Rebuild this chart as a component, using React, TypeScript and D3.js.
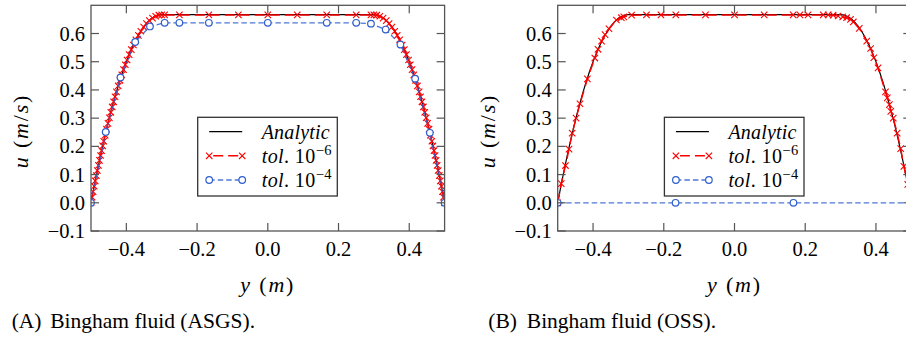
import React from "react";
import * as d3 from "d3";

// ---------- data ----------
const X_TICKS = [-0.4, -0.2, 0.0, 0.2, 0.4];
const Y_TICKS = [-0.1, 0.0, 0.1, 0.2, 0.3, 0.4, 0.5, 0.6];

const ANALYTIC_Y = [
  -0.5, -0.49, -0.48, -0.47, -0.46, -0.45, -0.44, -0.43, -0.42, -0.41, -0.4,
  -0.39, -0.38, -0.37, -0.36, -0.35, -0.34, -0.33, -0.32, -0.31, -0.3,
  0.3, 0.31, 0.32, 0.33, 0.34, 0.35, 0.36, 0.37, 0.38, 0.39, 0.4,
  0.41, 0.42, 0.43, 0.44, 0.45, 0.46, 0.47, 0.48, 0.49, 0.5,
];
const ANALYTIC_U = [
  0, 0.065, 0.1267, 0.1851, 0.2401, 0.2918, 0.3402, 0.3852, 0.4269, 0.4652, 0.5003,
  0.5319, 0.5603, 0.5853, 0.607, 0.6253, 0.6403, 0.652, 0.6603, 0.6653, 0.667,
  0.667, 0.6653, 0.6603, 0.652, 0.6403, 0.6253, 0.607, 0.5853, 0.5603, 0.5319, 0.5003,
  0.4652, 0.4269, 0.3852, 0.3402, 0.2918, 0.2401, 0.1851, 0.1267, 0.065, 0,
];

// (A) ASGS, tol 1e-6
const RED_A_Y = [
  -0.5, -0.497, -0.494, -0.491, -0.488, -0.485, -0.482, -0.479, -0.476, -0.473, -0.47,
  -0.467, -0.464, -0.46, -0.456, -0.452, -0.448, -0.444, -0.44, -0.436, -0.432,
  -0.428, -0.423, -0.418, -0.413, -0.408, -0.403, -0.398, -0.392, -0.386, -0.38,
  -0.373, -0.366, -0.359, -0.351, -0.343, -0.335, -0.326, -0.317, -0.308, -0.3,
  -0.2917, -0.25, -0.1667, -0.0833, 0, 0.0833, 0.1667, 0.25, 0.2917,
  0.3, 0.308, 0.317, 0.326, 0.335, 0.343, 0.351, 0.359, 0.366, 0.373, 0.38,
  0.386, 0.392, 0.398, 0.403, 0.408, 0.413, 0.418, 0.423, 0.428, 0.432,
  0.436, 0.44, 0.444, 0.448, 0.452, 0.456, 0.46, 0.464, 0.467, 0.47,
  0.473, 0.476, 0.479, 0.482, 0.485, 0.488, 0.491, 0.494, 0.497, 0.5,
];
const RED_A_U = [
  0, 0.0198, 0.0394, 0.0586, 0.0775, 0.0962, 0.1145, 0.1325, 0.1502, 0.1677, 0.1848,
  0.2016, 0.2182, 0.2398, 0.2608, 0.2813, 0.3013, 0.3207, 0.3397, 0.358, 0.3759,
  0.3932, 0.4141, 0.4342, 0.4534, 0.4718, 0.4894, 0.5061, 0.5251, 0.5429, 0.5594,
  0.5773, 0.5935, 0.608, 0.6227, 0.6352, 0.6456, 0.6547, 0.6612, 0.6649, 0.666,
  0.666, 0.666, 0.666, 0.666, 0.666, 0.666, 0.666, 0.666, 0.666,
  0.666, 0.6649, 0.6612, 0.6547, 0.6456, 0.6352, 0.6227, 0.608, 0.5935, 0.5773, 0.5594,
  0.5429, 0.5251, 0.5061, 0.4894, 0.4718, 0.4534, 0.4342, 0.4141, 0.3932, 0.3759,
  0.358, 0.3397, 0.3207, 0.3013, 0.2813, 0.2608, 0.2398, 0.2182, 0.2016, 0.1848,
  0.1677, 0.1502, 0.1325, 0.1145, 0.0962, 0.0775, 0.0586, 0.0394, 0.0198, 0,
];
// (A) ASGS, tol 1e-4
const BLUE_A_Y = [
  -0.5, -0.4583, -0.4167, -0.375, -0.3333, -0.2917, -0.25, -0.1667, 0,
  0.1667, 0.25, 0.2917, 0.3333, 0.375, 0.4167, 0.4583, 0.5,
];
const BLUE_A_U = [
  0, 0.251, 0.444, 0.57, 0.625, 0.638, 0.638, 0.638, 0.638,
  0.638, 0.638, 0.635, 0.614, 0.561, 0.44, 0.248, 0,
];

// (B) OSS, tol 1e-6
const RED_B_Y = [
  -0.5, -0.49, -0.478, -0.468, -0.459, -0.448, -0.437, -0.416, -0.395, -0.386, -0.376,
  -0.366, -0.355, -0.334, -0.32, -0.313, -0.291, -0.249, -0.208, -0.166, -0.082,
  0, 0.084, 0.166, 0.185, 0.208, 0.251, 0.265, 0.279, 0.293, 0.306, 0.317,
  0.328, 0.336, 0.353, 0.374, 0.385, 0.394, 0.406, 0.427, 0.432, 0.438,
  0.442, 0.449, 0.46, 0.47, 0.479, 0.49, 0.5,
];
const RED_B_U = [
  0, 0.068, 0.132, 0.19, 0.247, 0.3, 0.351, 0.439, 0.513, 0.544, 0.573,
  0.596, 0.617, 0.648, 0.656, 0.659, 0.665, 0.666, 0.666, 0.666, 0.666,
  0.666, 0.666, 0.666, 0.666, 0.666, 0.666, 0.666, 0.665, 0.662, 0.659, 0.656,
  0.65, 0.641, 0.618, 0.573, 0.547, 0.514, 0.478, 0.393, 0.372, 0.348,
  0.324, 0.3, 0.247, 0.192, 0.129, 0.065, 0,
];
// (B) OSS, tol 1e-4
const BLUE_B_Y = [-0.5, -0.1667, 0.1667, 0.5];
const BLUE_B_U = [0, 0, 0, 0];

const LEGEND_LABELS = ["Analytic", "tol", "tol"];
const LEGEND_EXPONENTS = ["", "−6", "−4"];
const CAPTION_TAGS = ["(A)", "(B)"];
const CAPTION_TEXTS = ["Bingham fluid (ASGS).", "Bingham fluid (OSS)."];

// ---------- style ----------
const RED = "#ff0000";
const BLUE = "#2f5fcf";
const SPINE = "#555555";
const AX_TOP = 5.3;
const AX_BOT = 231;
const AX_W = 353.6;
const SERIF = "Liberation Serif";

type PanelProps = {
  idx: number;
  x0: number;
  redY: number[];
  redU: number[];
  blueY: number[];
  blueU: number[];
  captionX: number;
};

function Cross({ cx, cy }: { cx: number; cy: number }) {
  const s = 3.2;
  return (
    <path
      d={`M${cx - s},${cy - s}L${cx + s},${cy + s}M${cx - s},${cy + s}L${cx + s},${cy - s}`}
      stroke={RED}
      strokeWidth={1.1}
      fill="none"
    />
  );
}

function Circ({ cx, cy }: { cx: number; cy: number }) {
  return <circle cx={cx} cy={cy} r={3.3} fill="#fff" stroke={BLUE} strokeWidth={1.2} />;
}

function Panel({ idx, x0, redY, redU, blueY, blueU, captionX }: PanelProps) {
  const x = d3.scaleLinear().domain([-0.5, 0.5]).range([x0, x0 + AX_W]);
  const y = d3.scaleLinear().domain([-0.1, 0.7]).range([AX_BOT, AX_TOP]);
  const line = d3
    .line<[number, number]>()
    .x((d) => x(d[0]))
    .y((d) => y(d[1]));
  const analytic = ANALYTIC_Y.map((v, i) => [v, ANALYTIC_U[i]] as [number, number]);
  const red = redY.map((v, i) => [v, redU[i]] as [number, number]);
  const blue = blueY.map((v, i) => [v, blueU[i]] as [number, number]);
  const fmt = d3.format(".1f");
  const clipId = `clip-${idx}`;
  const x1 = x0 + AX_W;
  const tl = 8;

  // legend geometry
  const lx = x0 + 106.7;
  const ly = 117.3;
  const lw = 139.6;
  const lh = 78.7;
  const rows = [131.7, 155.8, 180];
  const sx0 = lx + 11.5;
  const sx1 = lx + 44.5;
  const tx = lx + 64;

  return (
    <g>
      <defs>
        <clipPath id={clipId}>
          <rect x={x0} y={AX_TOP} width={AX_W} height={AX_BOT - AX_TOP} />
        </clipPath>
      </defs>
      <g clipPath={`url(#${clipId})`}>
        <path d={line(analytic) ?? ""} fill="none" stroke="#000" strokeWidth={1.2} />
        <path
          d={line(red) ?? ""}
          fill="none"
          stroke={RED}
          strokeWidth={1.5}
          strokeDasharray="10,5"
        />
        {red.map((d, i) => (
          <Cross key={`r${i}`} cx={x(d[0])} cy={y(d[1])} />
        ))}
        <path
          d={line(blue) ?? ""}
          fill="none"
          stroke={BLUE}
          strokeOpacity={0.85}
          strokeWidth={1.3}
          strokeDasharray="5.5,3"
        />
        {blue.map((d, i) => (
          <Circ key={`b${i}`} cx={x(d[0])} cy={y(d[1])} />
        ))}
      </g>

      {/* spines */}
      <rect
        x={x0}
        y={AX_TOP}
        width={AX_W}
        height={AX_BOT - AX_TOP}
        fill="none"
        stroke={SPINE}
        strokeWidth={1.3}
      />
      {/* ticks */}
      {X_TICKS.map((t) => (
        <g key={`xt${t}`}>
          <line x1={x(t)} x2={x(t)} y1={AX_BOT} y2={AX_BOT - tl} stroke={SPINE} strokeWidth={1.2} />
          <line x1={x(t)} x2={x(t)} y1={AX_TOP} y2={AX_TOP + tl} stroke={SPINE} strokeWidth={1.2} />
          <text x={x(t)} y={256} textAnchor="middle" style={{ fontFamily: SERIF }} fontSize={20.5} fill="#000">
            {fmt(t)}
          </text>
        </g>
      ))}
      {Y_TICKS.map((t) => (
        <g key={`yt${t}`}>
          <line x1={x0} x2={x0 + tl} y1={y(t)} y2={y(t)} stroke={SPINE} strokeWidth={1.2} />
          <line x1={x1} x2={x1 - tl} y1={y(t)} y2={y(t)} stroke={SPINE} strokeWidth={1.2} />
          <text x={x0 - 6} y={y(t) + 7} textAnchor="end" style={{ fontFamily: SERIF }} fontSize={20.5} fill="#000">
            {fmt(t)}
          </text>
        </g>
      ))}

      {/* axis labels */}
      <text
        transform={`translate(${x0 - 63},131) rotate(-90)`}
        textAnchor="middle"
        style={{ fontFamily: SERIF }}
        fontSize={22}
        letterSpacing={1.8}
        fill="#000"
      >
        <tspan fontStyle="italic">u</tspan>
        <tspan> (</tspan>
        <tspan fontStyle="italic">m</tspan>
        <tspan>/</tspan>
        <tspan fontStyle="italic">s</tspan>
        <tspan>)</tspan>
      </text>
      <text
        x={x(0)}
        y={291.5}
        textAnchor="middle"
        style={{ fontFamily: SERIF }}
        fontSize={22}
        letterSpacing={1.8}
        fill="#000"
      >
        <tspan fontStyle="italic">y</tspan>
        <tspan> (</tspan>
        <tspan fontStyle="italic">m</tspan>
        <tspan>)</tspan>
      </text>

      {/* legend */}
      <rect x={lx} y={ly} width={lw} height={lh} fill="#fff" stroke="#333" strokeWidth={1.3} />
      <line x1={sx0} x2={sx1} y1={rows[0]} y2={rows[0]} stroke="#000" strokeWidth={1.2} />
      <line
        x1={sx0}
        x2={sx1}
        y1={rows[1]}
        y2={rows[1]}
        stroke={RED}
        strokeWidth={1.5}
        strokeDasharray="10,5"
        strokeDashoffset={-4}
      />
      <Cross cx={sx0} cy={rows[1]} />
      <Cross cx={sx1} cy={rows[1]} />
      <line
        x1={sx0}
        x2={sx1}
        y1={rows[2]}
        y2={rows[2]}
        stroke={BLUE}
        strokeOpacity={0.85}
        strokeWidth={1.3}
        strokeDasharray="5.5,3"
      />
      <Circ cx={sx0} cy={rows[2]} />
      <Circ cx={sx1} cy={rows[2]} />
      {LEGEND_LABELS.map((lab, i) => (
        <text
          key={`lg${i}`}
          x={tx}
          y={rows[i] + 7}
          style={{ fontFamily: SERIF }}
          fontSize={20}
          fill="#000"
          letterSpacing={i === 0 ? 0.2 : 0.4}
        >
          <tspan fontStyle="italic">{lab}</tspan>
          {LEGEND_EXPONENTS[i] ? (
            <>
              <tspan>. 10</tspan>
              <tspan dy={-8} fontSize={14.5}>
                {LEGEND_EXPONENTS[i]}
              </tspan>
            </>
          ) : null}
        </text>
      ))}

      {/* caption */}
      <text x={captionX} y={328} style={{ fontFamily: SERIF }} fontSize={21.5} fill="#000">
        {CAPTION_TAGS[idx]}
      </text>
      <text x={captionX + 38.5} y={328} style={{ fontFamily: SERIF }} fontSize={21.5} fill="#000">
        {CAPTION_TEXTS[idx]}
      </text>
    </g>
  );
}

export default function App() {
  return (
    <svg
      width={906}
      height={339}
      style={{ position: "absolute", left: 0, top: 0, fontFamily: SERIF }}
    >
      <rect x={0} y={0} width={906} height={339} fill="#fff" />
      <Panel
        idx={0}
        x0={91}
        redY={RED_A_Y}
        redU={RED_A_U}
        blueY={BLUE_A_Y}
        blueU={BLUE_A_U}
        captionX={11.7}
      />
      <Panel
        idx={1}
        x0={557.7}
        redY={RED_B_Y}
        redU={RED_B_U}
        blueY={BLUE_B_Y}
        blueU={BLUE_B_U}
        captionX={488.3}
      />
    </svg>
  );
}
